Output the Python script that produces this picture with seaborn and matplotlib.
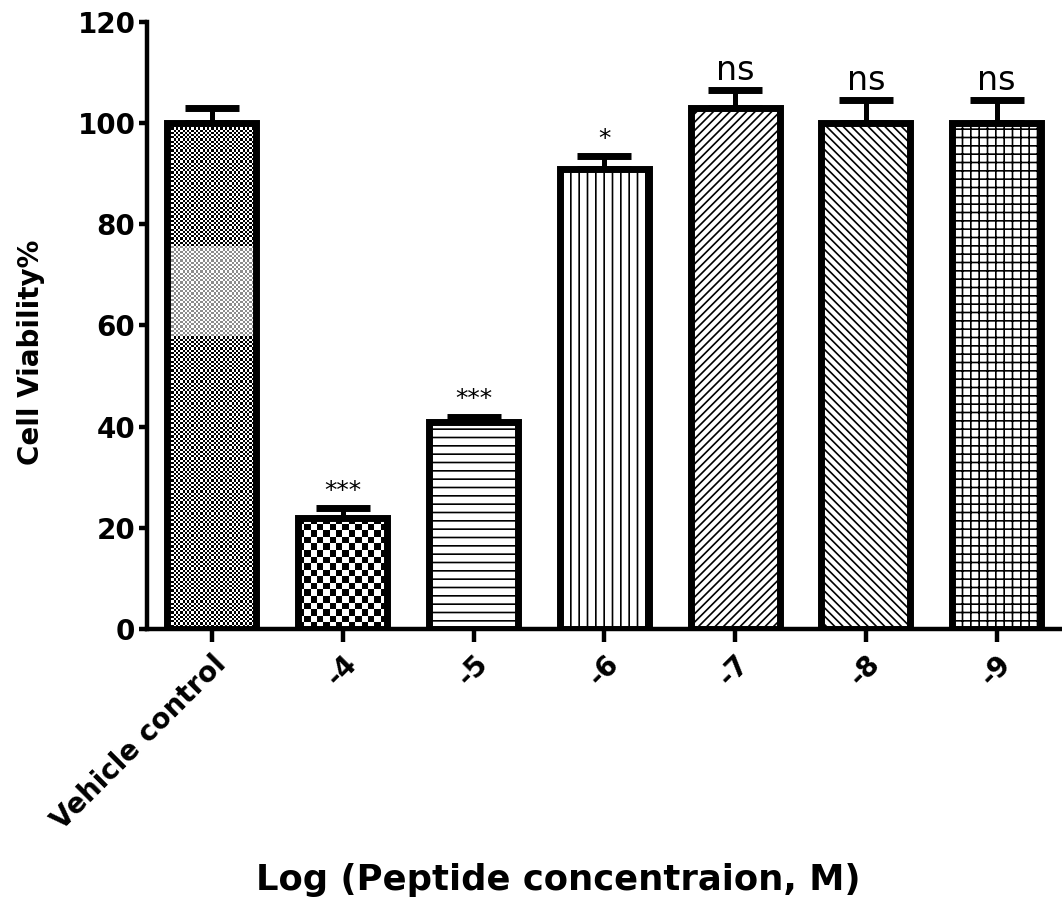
import numpy as np
import pandas as pd
import matplotlib
matplotlib.use("Agg")
import matplotlib.pyplot as plt
import seaborn as sns

# values
groups = ["Vehicle control", "-4", "-5", "-6", "-7", "-8", "-9"]
viability = [100, 22, 41, 91, 103, 100, 100]
sem = [3, 2, 1, 2.5, 3.5, 4.5, 4.5]
stars = ["", "***", "***", "*", "ns", "ns", "ns"]
# hatch per bar (None -> checkerboard texture, size in px)
hatches = [None, None, "--", "||", "////", "\\\\\\\\", "++"]
checker_px = [2.2, 6.5, 0, 0, 0, 0, 0]
# the lighter band seen in the vehicle control texture (y range)
light_band = (58, 75.5)

df = pd.DataFrame({"group": groups, "viability": viability})

sns.set_style("ticks")
plt.rcParams["font.family"] = ["DejaVu Sans"]
plt.rcParams["font.weight"] = "bold"
plt.rcParams["hatch.linewidth"] = 1.2
for k in ["text.color", "axes.labelcolor", "xtick.color", "ytick.color", "axes.edgecolor"]:
    plt.rcParams[k] = "black"

fig = plt.figure(figsize=(10.62, 9.13), dpi=100)
ax = fig.add_axes([0.138, 0.311, 0.862, 0.665])

sns.barplot(data=df, x="group", y="viability", color="white", width=0.68,
            edgecolor="black", linewidth=5, errorbar=None, ax=ax)

ax.set_ylim(0, 120)
ax.set_xlim(-0.5, 6.5)

# pixel size of one data unit, used for the checker textures
p0 = ax.transData.transform((0, 0))
p1 = ax.transData.transform((1, 1))
px_x, px_y = p1[0] - p0[0], p1[1] - p0[1]

for i, (bar, h, c) in enumerate(zip(ax.patches, hatches, checker_px)):
    bar.set_zorder(2)
    if h is not None:
        bar.set_hatch(h)
        continue
    bar.set_facecolor("none")
    x0, y0 = bar.get_x(), bar.get_y()
    w, hgt = bar.get_width(), bar.get_height()
    nx = int(round(w * px_x / c))
    ny = int(round(hgt * px_y / c))
    board = (np.add.outer(np.arange(ny), np.arange(nx)) % 2).astype(float)
    if i == 0:
        rows_y = y0 + hgt - (np.arange(ny) + 0.5) * hgt / ny
        band = (rows_y > light_band[0]) & (rows_y < light_band[1])
        board[band] = np.where(board[band] == 0, 0.55, 1.0)
    ax.imshow(board, cmap="gray", vmin=0, vmax=1, interpolation="nearest",
              extent=(x0, x0 + w, y0, y0 + hgt), aspect="auto", zorder=1.5,
              clip_path=bar, clip_on=True)

ax.set_ylim(0, 120)
ax.set_xlim(-0.5, 6.5)

x = np.arange(len(groups))
ax.errorbar(x, viability, yerr=[np.zeros(len(sem)), sem], fmt="none",
            ecolor="black", elinewidth=3.6, capsize=19.5, capthick=5, zorder=1)

for xi, v, e, s in zip(x, viability, sem, stars):
    if s == "ns":
        ax.text(xi, v + e + 2.0, s, ha="center", va="baseline", fontsize=24, fontweight="normal")
    elif s:
        ax.text(xi, v + e + 2.0, s, ha="center", va="baseline", fontsize=18, fontweight="normal")

ax.set_yticks(range(0, 121, 20))
ax.tick_params(axis="both", width=3.2, length=6, labelsize=20, direction="out", pad=2)
ax.tick_params(axis="x", length=9, pad=6)
ax.set_xticks(x)
ax.set_xticklabels(groups, rotation=45, ha="right", rotation_mode="anchor")
for lab in ax.get_xticklabels() + ax.get_yticklabels():
    lab.set_fontweight("bold")

sns.despine(ax=ax)
ax.spines["left"].set_linewidth(3.2)
ax.spines["bottom"].set_linewidth(3.2)

ax.set_ylabel("Cell Viability%", fontsize=20, fontweight="bold")
ax.yaxis.set_label_coords(-0.111, 0.456)
ax.set_xlabel("Log (Peptide concentraion, M)", fontsize=25.5, fontweight="bold")
ax.xaxis.set_label_coords(0.45, -0.385)

fig.savefig("out.png", dpi=100)
